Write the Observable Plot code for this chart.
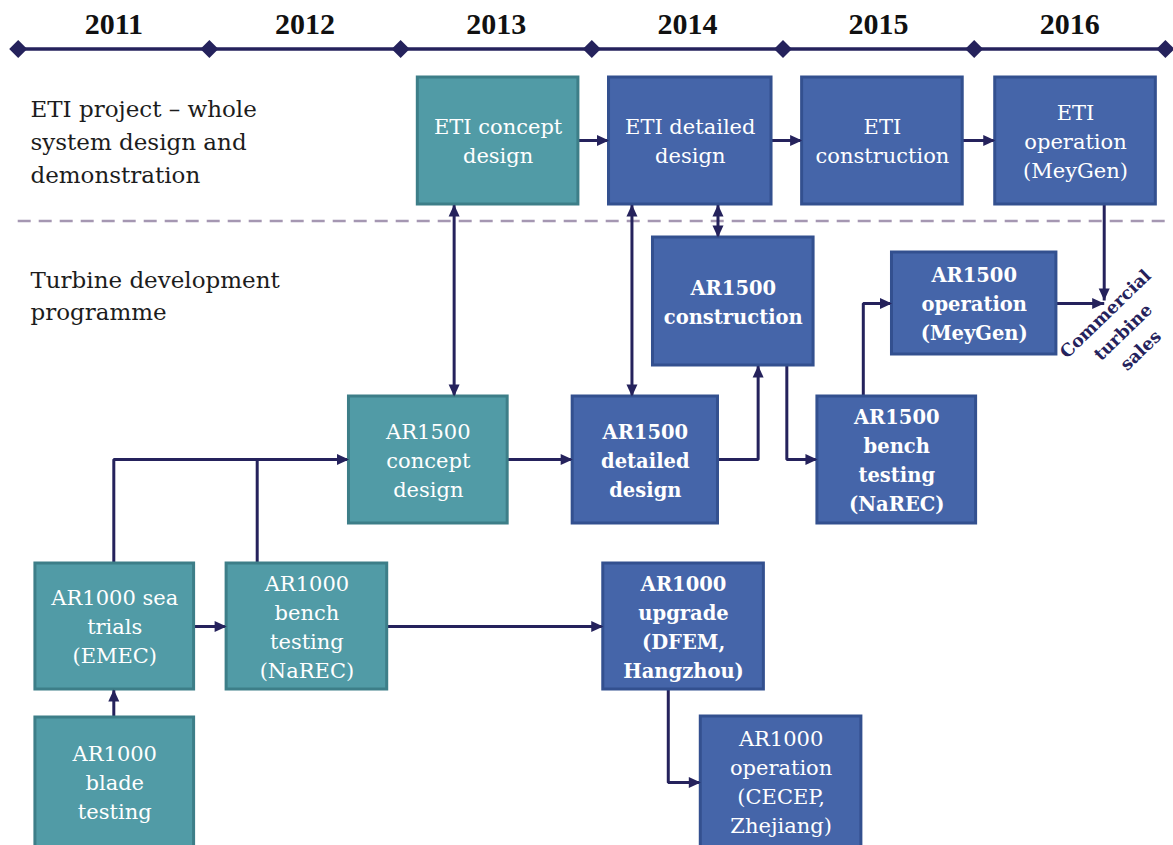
<!DOCTYPE html>
<html>
<head>
<meta charset="utf-8">
<script src="https://cdn.jsdelivr.net/npm/d3@7"></script>
<script src="https://cdn.jsdelivr.net/npm/@observablehq/plot@0.6"></script>
<style>
html, body { margin: 0; padding: 0; background: #ffffff; }
#chart svg { display: block; }
</style>
</head>
<body>
<div id="chart"></div>
<script>
// ---- Timeline ----
const yearLabels = [2011, 2012, 2013, 2014, 2015, 2016];
const yearMarks = [2011, 2012, 2013, 2014, 2015, 2016, 2017];

// ---- Swim-lane labels ----
const laneLabels = ["ETI project – whole\nsystem design and\ndemonstration", "Turbine development\nprogramme"];
const laneLevel = [139, 293];

// ---- Activity boxes (x in years, y in vertical layout units) ----
const boxLabels = [
  "ETI concept\ndesign", "ETI detailed\ndesign", "ETI\nconstruction", "ETI\noperation\n(MeyGen)",
  "AR1500\nconstruction", "AR1500\noperation\n(MeyGen)",
  "AR1500\nconcept\ndesign", "AR1500\ndetailed\ndesign", "AR1500\nbench\ntesting\n(NaREC)",
  "AR1000 sea\ntrials\n(EMEC)", "AR1000\nbench\ntesting\n(NaREC)", "AR1000\nupgrade\n(DFEM,\nHangzhou)",
  "AR1000\nblade\ntesting", "AR1000\noperation\n(CECEP,\nZhejiang)"
];
const boxGroup = ["teal", "blue", "blue", "blue", "blue", "blue", "teal", "blue", "blue", "teal", "teal", "blue", "teal", "blue"];
const boxBold  = [false, false, false, false, true, true, false, true, true, false, false, true, false, false];
const boxStart = [2013.09, 2014.09, 2015.10, 2016.11, 2014.32, 2015.57, 2012.73, 2013.90, 2015.18, 2011.09, 2012.09, 2014.06, 2011.09, 2014.57];
const boxEnd   = [2013.93, 2014.94, 2015.94, 2016.95, 2015.16, 2016.43, 2013.56, 2014.66, 2016.01, 2011.92, 2012.93, 2014.90, 2011.92, 2015.41];
const boxTop   = [77, 77, 77, 77, 237, 252, 396, 396, 396, 563, 563, 563, 717, 716];
const boxBottom= [204, 204, 204, 204, 365, 354, 523, 523, 523, 689, 689, 689, 847, 847];

// ---- Connectors (polylines, x in years) ----
const linkPaths = [
  { heads: "end",  pts: [[2013.93, 140], [2014.09, 140]] },
  { heads: "end",  pts: [[2014.94, 140], [2015.10, 140]] },
  { heads: "end",  pts: [[2015.94, 140], [2016.11, 140]] },
  { heads: "both", pts: [[2013.28, 204], [2013.28, 396]] },
  { heads: "both", pts: [[2014.21, 204], [2014.21, 396]] },
  { heads: "both", pts: [[2014.66, 204], [2014.66, 237]] },
  { heads: "end",  pts: [[2013.56, 459], [2013.90, 459]] },
  { heads: "end",  pts: [[2014.66, 459], [2014.87, 459], [2014.87, 365]] },
  { heads: "end",  pts: [[2015.02, 365], [2015.02, 459], [2015.18, 459]] },
  { heads: "end",  pts: [[2015.42, 396], [2015.42, 303], [2015.57, 303]] },
  { heads: "end",  pts: [[2016.43, 303], [2016.68, 303]] },
  { heads: "end",  pts: [[2016.68, 204], [2016.68, 300]] },
  { heads: "end",  pts: [[2011.50, 563], [2011.50, 459], [2012.73, 459]] },
  { heads: "none", pts: [[2012.25, 563], [2012.25, 459]] },
  { heads: "end",  pts: [[2011.92, 626], [2012.09, 626]] },
  { heads: "end",  pts: [[2012.93, 626], [2014.06, 626]] },
  { heads: "end",  pts: [[2011.50, 717], [2011.50, 689]] },
  { heads: "end",  pts: [[2014.40, 689], [2014.40, 782], [2014.57, 782]] }
];

// ---- Outcome label ----
const outcomeText = ["Commercial\nturbine\nsales"];
const outcomeYear = [2016.77];
const outcomeLevel = [330];

// ---------- build tables ----------
const boxes = boxLabels.map((label, i) => ({
  label, group: boxGroup[i], bold: boxBold[i],
  x1: boxStart[i], x2: boxEnd[i], y1: boxTop[i], y2: boxBottom[i]
}));
const linkPoints = linkPaths.flatMap((p, id) => p.pts.map(([x, y]) => ({ id, x, y })));
const dirOf = (a, b) => b[0] > a[0] ? "right" : b[0] < a[0] ? "left" : b[1] > a[1] ? "down" : "up";
const heads = [];
linkPaths.forEach(p => {
  const n = p.pts.length;
  if (p.heads === "none") return;
  heads.push({ x: p.pts[n - 1][0], y: p.pts[n - 1][1], dir: dirOf(p.pts[n - 2], p.pts[n - 1]) });
  if (p.heads === "both") heads.push({ x: p.pts[0][0], y: p.pts[0][1], dir: dirOf(p.pts[1], p.pts[0]) });
});

const navy = "#25225c";
const fills = { teal: "#519ba6", blue: "#4565a9" };
const strokes = { teal: "#3d7e88", blue: "#33508f" };

// arrowhead symbol with its tip at the anchor point
function headSymbol(ux, uy) {
  return {
    draw(ctx) {
      const L = 12, W = 5.5, px = -uy, py = ux;
      ctx.moveTo(0, 0);
      ctx.lineTo(-L * ux + W * px, -L * uy + W * py);
      ctx.lineTo(-L * ux - W * px, -L * uy - W * py);
      ctx.closePath();
    }
  };
}
const diamondSymbol = {
  draw(ctx) {
    const h = 9;
    ctx.moveTo(0, -h); ctx.lineTo(h, 0); ctx.lineTo(0, h); ctx.lineTo(-h, 0); ctx.closePath();
  }
};
const dirs = { right: [1, 0], left: [-1, 0], up: [0, -1], down: [0, 1] };

const boxTextCommon = {
  x: d => (d.x1 + d.x2) / 2,
  y: d => (d.y1 + d.y2) / 2 - 1.5,
  text: "label",
  fill: "white",
  fontFamily: "DejaVu Serif",
  textAnchor: "middle",
  lineAnchor: "middle"
};

const chart = Plot.plot({
  width: 1173,
  height: 845,
  marginTop: 0, marginRight: 0, marginBottom: 0, marginLeft: 0,
  x: { domain: [2011, 2017], range: [17.7, 1164.9], axis: null },
  y: { domain: [0, 845], range: [0, 845], axis: null },
  marks: [
    // timeline
    Plot.ruleY([{ y: 48.5, x1: yearMarks[0], x2: yearMarks[yearMarks.length - 1] }],
      { y: "y", x1: "x1", x2: "x2", stroke: navy, strokeWidth: 3.5 }),
    Plot.dot(yearMarks, { x: d => d, y: () => 48.5, symbol: diamondSymbol, fill: navy, stroke: "none" }),
    Plot.text(yearLabels, {
      x: d => d + 0.5, y: () => 24, text: d => String(d),
      fontFamily: "Liberation Serif", fontWeight: "bold", fontSize: 30, fill: "#111111"
    }),
    // lane separator
    Plot.ruleY([{ y: 220.5, x1: 2011, x2: 2017 }],
      { y: "y", x1: "x1", x2: "x2", stroke: "#a597b2", strokeWidth: 2.5, strokeDasharray: "13,8" }),
    // lane labels
    Plot.text(laneLabels, {
      x: () => 2011.064, y: (d, i) => laneLevel[i], text: d => d,
      textAnchor: "start", lineAnchor: "middle", lineHeight: 1.42,
      fontFamily: "DejaVu Serif", fontSize: 23, fill: "#1c1c1c"
    }),
    // connectors
    Plot.line(linkPoints, {
      x: "x", y: "y", z: "id", stroke: navy, strokeWidth: 3,
      strokeLinejoin: "miter", strokeLinecap: "butt", curve: "linear"
    }),
    // boxes
    Plot.rect(boxes, {
      x1: "x1", x2: "x2", y1: "y1", y2: "y2",
      fill: d => fills[d.group], stroke: d => strokes[d.group], strokeWidth: 3
    }),
    // arrowheads
    ...Object.entries(dirs).map(([k, [ux, uy]]) =>
      Plot.dot(heads.filter(h => h.dir === k), {
        x: "x", y: "y", symbol: headSymbol(ux, uy), fill: navy, stroke: "none"
      })
    ),
    // box labels
    Plot.text(boxes.filter(d => !d.bold), { ...boxTextCommon, fontSize: 21, lineHeight: 1.38 }),
    Plot.text(boxes.filter(d => d.bold), { ...boxTextCommon, fontSize: 19.5, fontWeight: "bold", lineHeight: 1.49 }),
    // outcome
    Plot.text(outcomeText, {
      x: (d, i) => outcomeYear[i], y: (d, i) => outcomeLevel[i], text: d => d,
      rotate: -44, lineAnchor: "middle", textAnchor: "middle", lineHeight: 1.45,
      fontFamily: "DejaVu Serif", fontWeight: "bold", fontSize: 17.5, fill: navy
    })
  ]
});
document.getElementById("chart").appendChild(chart);
</script>
</body>
</html>
